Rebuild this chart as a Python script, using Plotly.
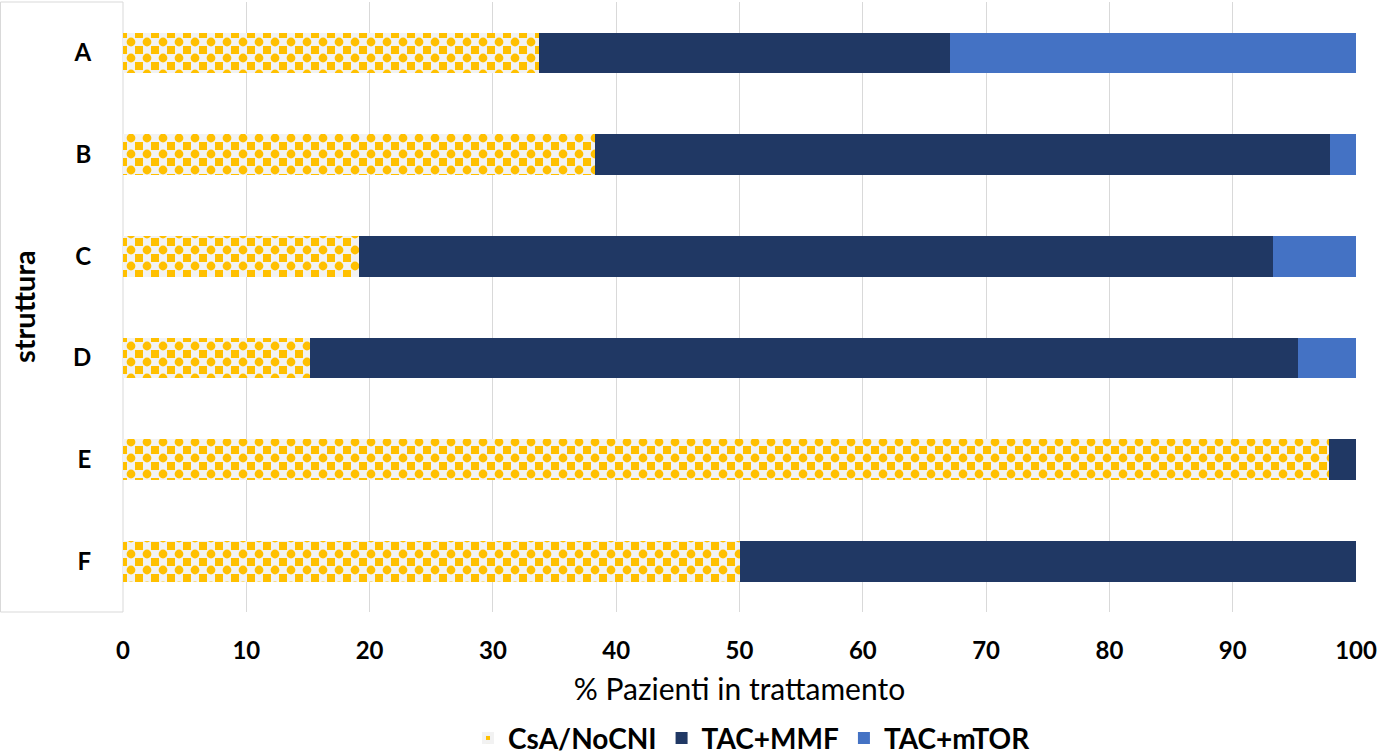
import plotly.graph_objects as go

categories = ["A", "B", "C", "D", "E", "F"]
csa_nocni = [33.7, 38.3, 19.1, 15.2, 97.8, 50.0]
tac_mmf = [33.4, 59.6, 74.2, 80.1, 2.2, 50.0]
tac_mtor = [32.9, 2.1, 6.7, 4.7, 0.0, 0.0]
x_ticks = [0, 10, 20, 30, 40, 50, 60, 70, 80, 90, 100]

FONT = "Lato"
W, H = 1377, 755
L, R, T, B = 123, 21, 2, 143
PW = W - L - R
PH = H - T - B

YELLOW = "#FFC000"
LIGHT = "#F2F2F2"

fig = go.Figure()
# checker base: yellow squares on a light grid
fig.add_trace(go.Bar(
    y=categories, x=csa_nocni, orientation="h", name="CsA/NoCNI",
    marker=dict(color=YELLOW,
                pattern=dict(shape="+", fgcolor=LIGHT, bgcolor=YELLOW,
                             size=16, solidity=0.75, fillmode="replace"),
                line=dict(width=0)),
))
fig.add_trace(go.Bar(
    y=categories, x=tac_mmf, orientation="h", name="TAC+MMF",
    marker=dict(color="#203864", line=dict(width=0)),
))
fig.add_trace(go.Bar(
    y=categories, x=tac_mtor, orientation="h", name="TAC+mTOR",
    marker=dict(color="#4472C4", line=dict(width=0)),
))
# checker complement: fills the remaining cells of the checkerboard
fig.add_trace(go.Bar(
    y=categories, x=csa_nocni, orientation="h", name="CsA/NoCNI",
    yaxis="y2", showlegend=False, hoverinfo="skip",
    marker=dict(color="rgba(0,0,0,0)",
                pattern=dict(shape=".", fgcolor=YELLOW, bgcolor="rgba(0,0,0,0)",
                             size=16, solidity=0.235, fillmode="replace"),
                line=dict(width=0)),
))

fig.update_layout(
    width=W, height=H,
    margin=dict(l=L, r=R, t=T, b=B, autoexpand=False),
    barmode="stack", bargap=0.6,
    plot_bgcolor="white", paper_bgcolor="white",
    font=dict(family=FONT, color="black"),
    showlegend=True,
    legend=dict(orientation="h", x=(752 - L) / PW, xanchor="center",
                y=-0.207, yanchor="middle",
                font=dict(size=28, weight="bold", family=FONT),
                itemwidth=30, traceorder="normal"),
    xaxis=dict(range=[0, 100], tickvals=x_ticks, showgrid=True,
               gridcolor="#D9D9D9", gridwidth=1, zeroline=False,
               showline=False, ticks="outside", ticklen=17,
               tickcolor="rgba(0,0,0,0)", automargin=False,
               ticklabeloverflow="allow",
               tickfont=dict(size=24, weight="bold", family=FONT),
               title=dict(text="% Pazienti in trattamento",
                          font=dict(size=30, family=FONT), standoff=16)),
    yaxis=dict(autorange="reversed", showgrid=False, zeroline=False,
               showline=False, ticks="outside", ticklen=26,
               tickcolor="rgba(0,0,0,0)", automargin=False,
               tickfont=dict(size=24, weight="bold", family=FONT)),
    yaxis2=dict(overlaying="y", autorange="reversed", showgrid=False,
                zeroline=False, showline=False, showticklabels=False,
                categoryorder="array", categoryarray=categories),
    shapes=[dict(type="rect", xref="paper", yref="paper",
                 x0=-(L - 0.5) / PW, x1=0, y0=0, y1=1,
                 line=dict(color="#D9D9D9", width=1), layer="below")],
    annotations=[dict(text="struttura", xref="paper", yref="paper",
                      x=-(L - 23) / PW, y=(PH - (307 - T)) / PH,
                      xanchor="center", yanchor="middle", textangle=-90,
                      showarrow=False,
                      font=dict(size=29, weight="bold", family=FONT))],
)

fig.write_html("out.html")
